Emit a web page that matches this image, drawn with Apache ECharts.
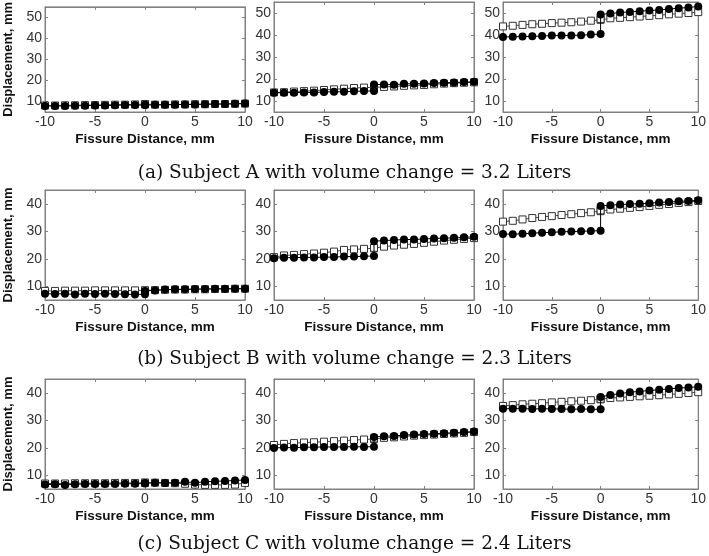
<!DOCTYPE html>
<html><head><meta charset="utf-8">
<script src="https://cdn.jsdelivr.net/npm/echarts@6/dist/echarts.min.js"></script>
<style>html,body{margin:0;padding:0;background:#fff}#c{width:709px;height:556px}</style>
</head><body><div id="c"></div>
<script>
// x positions: lower segment -10..0, then upper segment 0..10
const xVals = [-10,-9,-8,-7,-6,-5,-4,-3,-2,-1,0, 0,1,2,3,4,5,6,7,8,9,10];
const xTicks = [-10,-5,0,5,10];
const yTicksRowA = [10,20,30,40,50];
const yTicksRowBC = [10,20,30,40];
const captions = [
  '(a) Subject A with volume change = 3.2 Liters',
  '(b) Subject B with volume change = 2.3 Liters',
  '(c) Subject C with volume change = 2.4 Liters'
];
const xName = 'Fissure Distance, mm';
const yName = 'Displacement, mm';

// Subject A
const a1Circles = [7.8,7.9,7.8,8.0,8.0,8.1,8.1,8.2,8.3,8.3,8.3, 8.4,8.4,8.4,8.5,8.6,8.6,8.7,8.8,8.8,8.9,9.0];
const a1Squares = [8.1,8.1,8.2,8.2,8.3,8.3,8.4,8.5,8.5,8.6,8.8, 8.6,8.5,8.5,8.6,8.6,8.7,8.7,8.8,8.8,8.9,9.0];
const a2Circles = [13.7,13.8,13.8,13.9,13.9,14.1,14.2,14.2,14.4,14.5,14.6, 17.5,17.5,17.4,17.8,17.8,17.9,18.2,18.3,18.4,18.6,18.7];
const a2Squares = [13.9,14.0,14.3,14.5,14.7,15.0,15.3,15.6,15.9,16.1,16.2, 16.3,16.4,16.6,16.9,17.1,17.3,17.6,17.9,18.1,18.3,18.5];
const a3Circles = [39.1,39.2,39.3,39.4,39.5,39.8,39.8,39.8,39.9,40.2,40.4, 49.3,49.8,50.2,50.5,50.8,51.1,51.4,51.8,52.2,52.5,53.0];
const a3Squares = [43.9,44.2,44.6,44.9,45.1,45.4,45.6,45.8,46.1,46.5,46.9, 47.3,47.6,47.8,48.1,48.4,48.7,49.0,49.4,49.7,50.0,50.4];
// Subject B
const b1Circles = [7.3,7.2,7.3,7.0,7.3,7.2,7.3,7.2,7.1,7.0,7.1, 8.3,8.5,8.8,8.9,8.9,9.0,9.0,9.1,9.1,9.1,9.1];
const b1Squares = [8.3,8.3,8.4,8.4,8.4,8.5,8.5,8.5,8.5,8.5,8.5, 8.5,8.6,8.7,8.8,8.8,8.9,8.9,9.0,9.0,9.1,9.1];
const b2Circles = [20.2,20.4,20.4,20.5,20.5,20.6,20.6,20.8,20.8,20.9,21.0, 26.4,26.6,26.8,27.0,27.0,27.2,27.4,27.5,27.6,27.8,28.0];
const b2Squares = [20.6,21.2,21.4,21.7,21.9,22.2,22.6,23.2,23.4,23.6,23.8, 24.0,24.4,24.8,25.1,25.4,25.8,26.2,26.6,26.9,27.2,27.5];
const b3Circles = [29.0,28.9,29.1,29.3,29.5,29.6,29.8,29.9,30.0,30.1,30.2, 39.2,39.5,39.7,39.9,40.0,40.2,40.5,40.6,40.9,41.0,41.3];
const b3Squares = [33.5,33.8,34.3,34.8,35.2,35.5,35.9,36.2,36.6,36.9,37.3, 37.6,37.9,38.2,38.5,38.8,39.2,39.6,39.9,40.3,40.6,41.0];
// Subject C
const c1Circles = [6.6,6.7,6.5,6.7,6.8,6.8,6.8,6.8,6.9,6.9,7.0, 7.2,7.3,7.2,7.3,7.6,7.3,7.6,7.8,7.9,8.1,8.3];
const c1Squares = [7.0,7.0,7.0,7.1,7.1,7.1,7.1,7.2,7.2,7.2,7.3, 7.3,7.3,7.2,7.1,6.9,6.6,6.5,6.5,6.5,6.6,7.2];
const c2Circles = [19.9,20.1,20.0,20.2,20.2,20.3,20.3,20.3,20.4,20.3,20.4, 23.9,24.2,24.3,24.6,24.8,25.0,25.1,25.3,25.5,25.7,25.9];
const c2Squares = [21.0,21.4,21.7,21.9,22.0,22.2,22.4,22.6,22.8,23.0,23.2, 23.4,23.6,23.8,24.1,24.4,24.6,24.8,25.0,25.2,25.4,25.7];
const c3Circles = [34.2,34.2,34.2,34.1,34.2,34.1,34.1,34.0,34.1,34.0,34.0, 38.5,39.2,39.7,40.2,40.5,40.8,41.1,41.4,41.7,41.9,42.2];
const c3Squares = [35.2,35.5,35.8,36.0,36.2,36.5,36.7,36.9,37.1,37.3,37.6, 37.8,38.1,38.3,38.5,38.7,38.9,39.1,39.4,39.6,39.9,40.2];

const panels = [
  [a1Squares,a1Circles],[a2Squares,a2Circles],[a3Squares,a3Circles],
  [b1Squares,b1Circles],[b2Squares,b2Circles],[b3Squares,b3Circles],
  [c1Squares,c1Circles],[c2Squares,c2Circles],[c3Squares,c3Circles]
];
const rowRanges = [{min:5,max:55,ticks:yTicksRowA},{min:5,max:45,ticks:yTicksRowBC},{min:5,max:45,ticks:yTicksRowBC}];
const rowTops = [2,190,379];
const colLefts = [45,274,503];
const colWidths = [200,200,198];
const plotH = 110;

const axisGray = '#808080';
const labelStyle = {fontFamily:'Liberation Sans', fontSize:14, color:'#333'};
const grids=[], xAxes=[], yAxes=[], series=[];
const pairs = v => v.map((y,i)=>[xVals[i], y]);

for (let r=0;r<3;r++){
  for (let c=0;c<3;c++){
    const g = r*3+c;
    grids.push({left:colLefts[c], top:rowTops[r], width:colWidths[c], height:plotH, show:true, borderColor:axisGray, borderWidth:1, backgroundColor:'#fff'});
    const rr = rowRanges[r];
    xAxes.push({gridIndex:g, type:'value', position:'bottom', min:-10, max:10, interval:5,
      axisLine:{show:true, onZero:false, lineStyle:{color:axisGray}},
      axisTick:{show:true, inside:true, length:3, customValues:xTicks, lineStyle:{color:axisGray}},
      axisLabel:Object.assign({margin:3, customValues:xTicks}, labelStyle),
      splitLine:{show:false},
      name:xName, nameLocation:'middle', nameGap:20,
      nameTextStyle:{fontFamily:'Liberation Sans', fontSize:13.5, fontWeight:'bold', color:'#111'}});
    xAxes.push({gridIndex:g, type:'value', position:'top', min:-10, max:10, interval:5,
      axisLine:{show:true, onZero:false, lineStyle:{color:axisGray}},
      axisTick:{show:true, inside:true, length:3, lineStyle:{color:axisGray}},
      axisLabel:{show:false}, splitLine:{show:false}});
    const yl = {gridIndex:g, type:'value', position:'left', min:rr.min, max:rr.max,
      axisLine:{show:true, onZero:false, lineStyle:{color:axisGray}},
      axisTick:{show:true, inside:true, length:3, customValues:rr.ticks, lineStyle:{color:axisGray}},
      axisLabel:Object.assign({margin:3, customValues:rr.ticks}, labelStyle),
      splitLine:{show:false}};
    if (c===0){
      yl.name = yName; yl.nameLocation='middle'; yl.nameGap=30;
      yl.nameTextStyle={fontFamily:'Liberation Sans', fontSize:13, fontWeight:'bold', color:'#111'};
    }
    yAxes.push(yl);
    yAxes.push({gridIndex:g, type:'value', position:'right', min:rr.min, max:rr.max,
      axisLine:{show:true, onZero:false, lineStyle:{color:axisGray}},
      axisTick:{show:true, inside:true, length:3, customValues:rr.ticks, lineStyle:{color:axisGray}},
      axisLabel:{show:false}, splitLine:{show:false}});
    const [sq, ci] = panels[g];
    series.push({type:'line', xAxisIndex:2*g, yAxisIndex:2*g, data:pairs(sq),
      symbol:'rect', symbolSize:7, showAllSymbol:true,
      lineStyle:{color:'#444', width:1}, itemStyle:{color:'#fff', borderColor:'#333', borderWidth:1}, z:2, animation:false});
    series.push({type:'line', xAxisIndex:2*g, yAxisIndex:2*g, data:pairs(ci),
      symbol:'circle', symbolSize:8, showAllSymbol:true,
      lineStyle:{color:'#000', width:1}, itemStyle:{color:'#000'}, z:3, animation:false});
  }
}
const capTops = [159,345,530];
const titles = captions.map((t,i)=>({text:t, left:'center', top:capTops[i],
  textStyle:{fontFamily:'DejaVu Serif', fontSize:18.5, fontWeight:'normal', color:'#111'}}));

const chart = echarts.init(document.getElementById('c'), null, {renderer:'canvas'});
chart.setOption({animation:false, title:titles, grid:grids, xAxis:xAxes, yAxis:yAxes, series:series});
</script></body></html>
